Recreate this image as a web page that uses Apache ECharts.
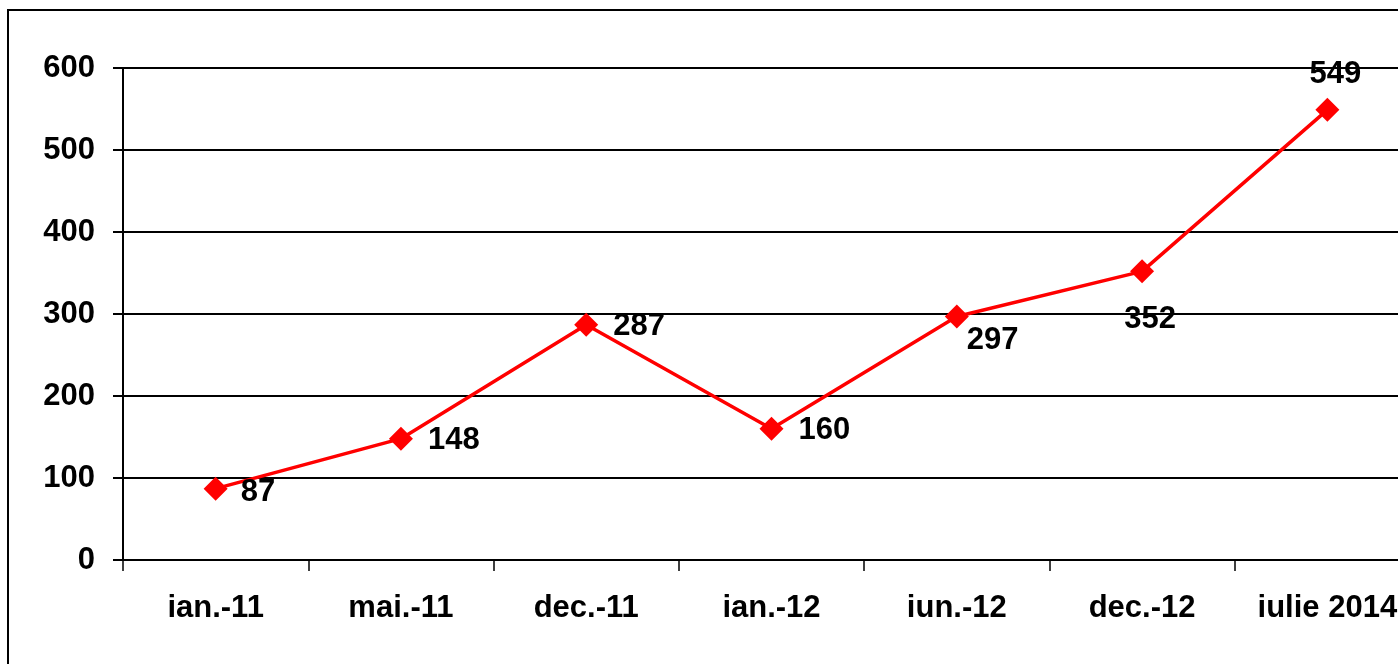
<!DOCTYPE html>
<html><head><meta charset="utf-8">
<script src="https://cdn.jsdelivr.net/npm/echarts@6/dist/echarts.min.js"></script>
<style>html,body{margin:0;padding:0;background:#fff;overflow:hidden;width:1398px;height:664px}#c{width:1440px;height:664px}</style>
</head><body><div id="c"></div>
<script>
const categories = ['ian.-11','mai.-11','dec.-11','ian.-12','iun.-12','dec.-12','iulie 2014'];
const values = [87,148,287,160,297,352,549];
const labelPos = ['right','right','right','right','right','bottom','top'];
const labelOffsets = [[-2,4],[0,2],[0,2],[0,2],[-17,24],[8,6],[8,7]];

const chart = echarts.init(document.getElementById('c'));
const font = '"Liberation Sans", Arial, sans-serif';
chart.setOption({
  animation:false,
  backgroundColor:'#fff',
  graphic:[{type:'rect',shape:{x:8,y:10,width:1500,height:800},style:{fill:'none',stroke:'#000',lineWidth:2},z:-1}],
  grid:{left:123,top:68,right:20,bottom:104},
  xAxis:{type:'category',data:categories,boundaryGap:true,
    axisLine:{lineStyle:{color:'#000',width:2}},
    axisTick:{show:true,alignWithLabel:false,length:11,lineStyle:{color:'#000',width:1.5}},
    axisLabel:{color:'#000',fontFamily:font,fontWeight:'bold',fontSize:31,margin:33,interval:0}
  },
  yAxis:{type:'value',min:0,max:600,interval:100,
    axisLine:{show:true,lineStyle:{color:'#000',width:2}},
    axisTick:{show:true,length:10,lineStyle:{color:'#000',width:2}},
    splitLine:{lineStyle:{color:'#000',width:2}},
    axisLabel:{color:'#000',fontFamily:font,fontWeight:'bold',fontSize:31,margin:28}
  },
  series:[{type:'line',data:values.map((v,i)=>({value:v,label:{position:labelPos[i],offset:labelOffsets[i]}})),
    symbol:'diamond',symbolSize:24,
    lineStyle:{color:'#ff0000',width:3.5},
    itemStyle:{color:'#ff0000'},
    label:{show:true,color:'#000',fontFamily:font,fontWeight:'bold',fontSize:31,distance:15}
  }]
});
</script></body></html>
